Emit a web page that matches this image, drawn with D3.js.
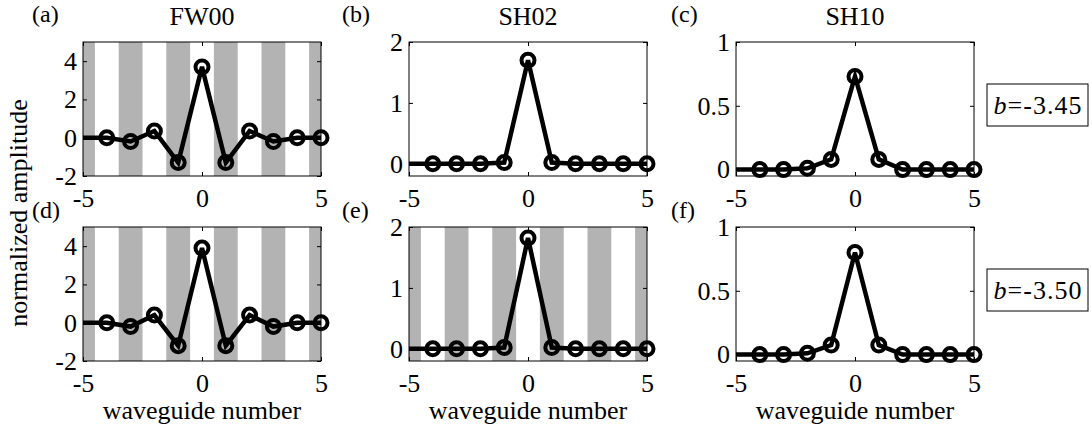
<!DOCTYPE html>
<html>
<head>
<meta charset="utf-8">
<script src="https://d3js.org/d3.v7.min.js"></script>
<style>
body { margin: 0; background: #fff; }
svg text { font-family: "Liberation Serif", "Times New Roman", serif; }
</style>
</head>
<body>
<svg width="1092" height="435"></svg>
<script>
// waveguide index n = -5..5 (markers drawn for n >= -4)
var waveguide = [-5, -4, -3, -2, -1, 0, 1, 2, 3, 4, 5];
var ampA = [0, 0, -0.2, 0.35, -1.3, 3.7, -1.3, 0.35, -0.2, 0, 0];
var ampB = [0, 0, 0, 0, 0.02, 1.7, 0.02, 0, 0, 0, 0];
var ampC = [0, 0, 0, 0.01, 0.08, 0.73, 0.08, 0, 0, 0, 0];
var ampD = [0, 0, -0.2, 0.4, -1.2, 3.9, -1.2, 0.4, -0.2, 0, 0];
var ampE = [0, 0, 0, 0, 0.02, 1.82, 0.02, 0, 0, 0, 0];
var ampF = [0, 0, 0, 0.01, 0.075, 0.8, 0.075, 0, 0, 0, 0];

var panelLabels = ["(a)", "(b)", "(c)", "(d)", "(e)", "(f)"];
var modeTitles = ["FW00", "SH02", "SH10"];
var bValues = ["-3.45", "-3.50"];
var xTicks = [-5, 0, 5];
var yTicksFW = [-2, 0, 2, 4];
var yTicksSH02 = [0, 1, 2];
var yTicksSH10 = [0, 0.5, 1];
var stripeCenters = [-5, -3, -1, 1, 3, 5];

var panels = [
  {amp: ampA, ydom: [-2, 5], yt: yTicksFW, stripes: true},
  {amp: ampB, ydom: [-0.2, 2], yt: yTicksSH02, stripes: false},
  {amp: ampC, ydom: [-0.05, 1], yt: yTicksSH10, stripes: false},
  {amp: ampD, ydom: [-2, 5], yt: yTicksFW, stripes: true},
  {amp: ampE, ydom: [-0.2, 2], yt: yTicksSH02, stripes: true},
  {amp: ampF, ydom: [-0.05, 1], yt: yTicksSH10, stripes: false}
];

var svg = d3.select("svg");
var fs = 26;
var colX = [83, 409, 736], colW = 238;
var rowY = [42, 227], rowH = 134;
var labelX = [32, 342, 671], labelY = [22, 218];

function styleAxis(g) {
  g.attr("font-size", fs).attr("font-family", null);
  g.select(".domain").remove();
  g.selectAll(".tick line").attr("stroke", "#000");
  g.selectAll(".tick text").attr("fill", "#000");
}

panels.forEach(function(p, i) {
  var c = i % 3, r = Math.floor(i / 3);
  var x0 = colX[c], y0 = rowY[r];
  var x = d3.scaleLinear().domain([-5, 5]).range([x0, x0 + colW]);
  var y = d3.scaleLinear().domain(p.ydom).range([y0 + rowH, y0]);
  var g = svg.append("g");

  g.append("clipPath").attr("id", "box" + i)
    .append("rect").attr("x", x0).attr("y", y0).attr("width", colW).attr("height", rowH);
  g.append("clipPath").attr("id", "line" + i)
    .append("rect").attr("x", x0).attr("y", 0).attr("width", colW + 30).attr("height", 435);

  if (p.stripes) {
    g.append("g").attr("clip-path", "url(#box" + i + ")")
      .selectAll("rect").data(stripeCenters).enter().append("rect")
      .attr("x", function(d) { return x(d - 0.5); })
      .attr("width", function(d) { return x(d + 0.5) - x(d - 0.5); })
      .attr("y", y0).attr("height", rowH)
      .attr("fill", "#b3b3b3");
  }

  var fmt = function(d) { return String(d); };
  g.append("g").attr("transform", "translate(0," + (y0 + rowH) + ")")
    .call(d3.axisBottom(x).tickValues(xTicks).tickSize(-4).tickPadding(13).tickFormat(fmt))
    .call(styleAxis);
  g.append("g").attr("transform", "translate(0," + y0 + ")")
    .call(d3.axisTop(x).tickValues(xTicks).tickSize(-4).tickFormat(""))
    .call(styleAxis);
  g.append("g").attr("transform", "translate(" + x0 + ",0)")
    .call(d3.axisLeft(y).tickValues(p.yt).tickSize(-4).tickPadding(6).tickFormat(fmt))
    .call(styleAxis);
  g.append("g").attr("transform", "translate(" + (x0 + colW) + ",0)")
    .call(d3.axisRight(y).tickValues(p.yt).tickSize(-4).tickFormat(""))
    .call(styleAxis);

  g.append("rect").attr("x", x0).attr("y", y0).attr("width", colW).attr("height", rowH)
    .attr("fill", "none").attr("stroke", "#000").attr("stroke-width", 1);

  var pts = waveguide.map(function(n, k) { return {n: n, v: p.amp[k]}; });
  var line = d3.line().x(function(d) { return x(d.n); }).y(function(d) { return y(d.v); });
  g.append("path").datum(pts).attr("clip-path", "url(#line" + i + ")")
    .attr("d", line).attr("fill", "none").attr("stroke", "#000")
    .attr("stroke-width", 4.5).attr("stroke-linejoin", "miter");
  g.selectAll("circle").data(pts.filter(function(d) { return d.n > -5; }))
    .enter().append("circle")
    .attr("cx", function(d) { return x(d.n); })
    .attr("cy", function(d) { return y(d.v); })
    .attr("r", 6.5).attr("fill", "none").attr("stroke", "#000").attr("stroke-width", 4);

  svg.append("text").attr("x", labelX[c]).attr("y", labelY[r])
    .attr("font-size", 24).text(panelLabels[i]);
  if (r === 0) {
    svg.append("text").attr("x", x0 + colW / 2).attr("y", 25)
      .attr("text-anchor", "middle").attr("font-size", fs).text(modeTitles[c]);
  } else {
    svg.append("text").attr("x", x0 + colW / 2).attr("y", 419)
      .attr("text-anchor", "middle").attr("font-size", fs).text("waveguide number");
  }
});

// b value boxes beside the SH10 panels
bValues.forEach(function(b, r) {
  var cy = rowY[r] + rowH / 2 - 4;
  svg.append("rect").attr("x", 987).attr("y", cy - 21).attr("width", 101).attr("height", 42)
    .attr("fill", "#fff").attr("stroke", "#000").attr("stroke-width", 1);
  var t = svg.append("text").attr("x", 1038).attr("y", cy + 9)
    .attr("text-anchor", "middle").attr("font-size", fs)
    .attr("letter-spacing", 1);
  t.append("tspan").attr("font-style", "italic").text("b");
  t.append("tspan").text("=" + b);
});

svg.append("text")
  .attr("transform", "translate(27,213) rotate(-90)")
  .attr("text-anchor", "middle").attr("font-size", fs)
  .text("normalized amplitude");
</script>
</body>
</html>
